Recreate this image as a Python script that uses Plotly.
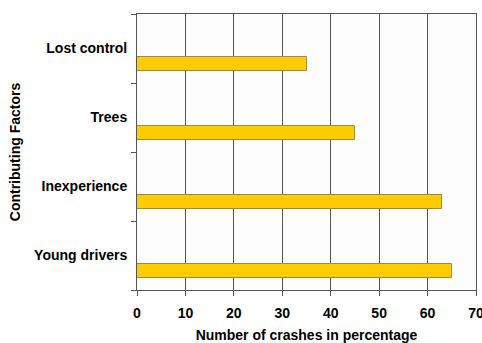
import plotly.graph_objects as go

# Contributing factors (bottom to top) and share of crashes in percent
factors = ["Young drivers", "Inexperience", "Trees", "Lost control"]
crash_pct = [65, 63, 45, 35]

x_ticks = [0, 10, 20, 30, 40, 50, 60, 70]

font_family = "Liberation Sans, Arial, sans-serif"
axis_grey = "#555555"

fig = go.Figure(
    go.Bar(
        x=crash_pct,
        y=factors,
        orientation="h",
        width=0.2,
        offset=-0.33,
        marker=dict(color="#FFCC00", line=dict(color="#A08A3A", width=1)),
        hoverinfo="x+y",
    )
)

fig.update_layout(
    width=482,
    height=343,
    margin=dict(l=137, r=6, t=14, b=53),
    paper_bgcolor="white",
    plot_bgcolor="#FDFDFD",
    showlegend=False,
    font=dict(family=font_family, size=14, color="black"),
    bargap=0,
)

fig.update_xaxes(
    range=[0, 70],
    tickvals=x_ticks,
    ticktext=[f"<b>{v}</b>" for v in x_ticks],
    tickfont=dict(size=14, family=font_family),
    ticklabeloverflow="allow",
    ticklabelstandoff=5,
    showgrid=True,
    gridcolor=axis_grey,
    gridwidth=1,
    showline=True,
    linecolor=axis_grey,
    linewidth=1,
    mirror=True,
    ticks="outside",
    ticklen=5,
    tickcolor=axis_grey,
    zeroline=False,
    title=dict(
        text="<b>Number of crashes in percentage</b>",
        font=dict(size=14),
        standoff=14,
    ),
    automargin=False,
)

fig.update_yaxes(
    type="category",
    categoryorder="array",
    categoryarray=factors,
    tickvals=factors,
    ticktext=[f"<b>{f}</b>" for f in factors],
    showgrid=False,
    showline=True,
    linecolor=axis_grey,
    linewidth=1,
    mirror=True,
    ticks="outside",
    tickson="boundaries",
    ticklen=5,
    tickcolor=axis_grey,
    tickfont=dict(size=14, family=font_family),
    ticklabelstandoff=6,
    title=dict(
        text="<b>Contributing Factors</b>",
        font=dict(size=14),
        standoff=10,
    ),
    automargin=False,
)

fig.write_html("out.html")
